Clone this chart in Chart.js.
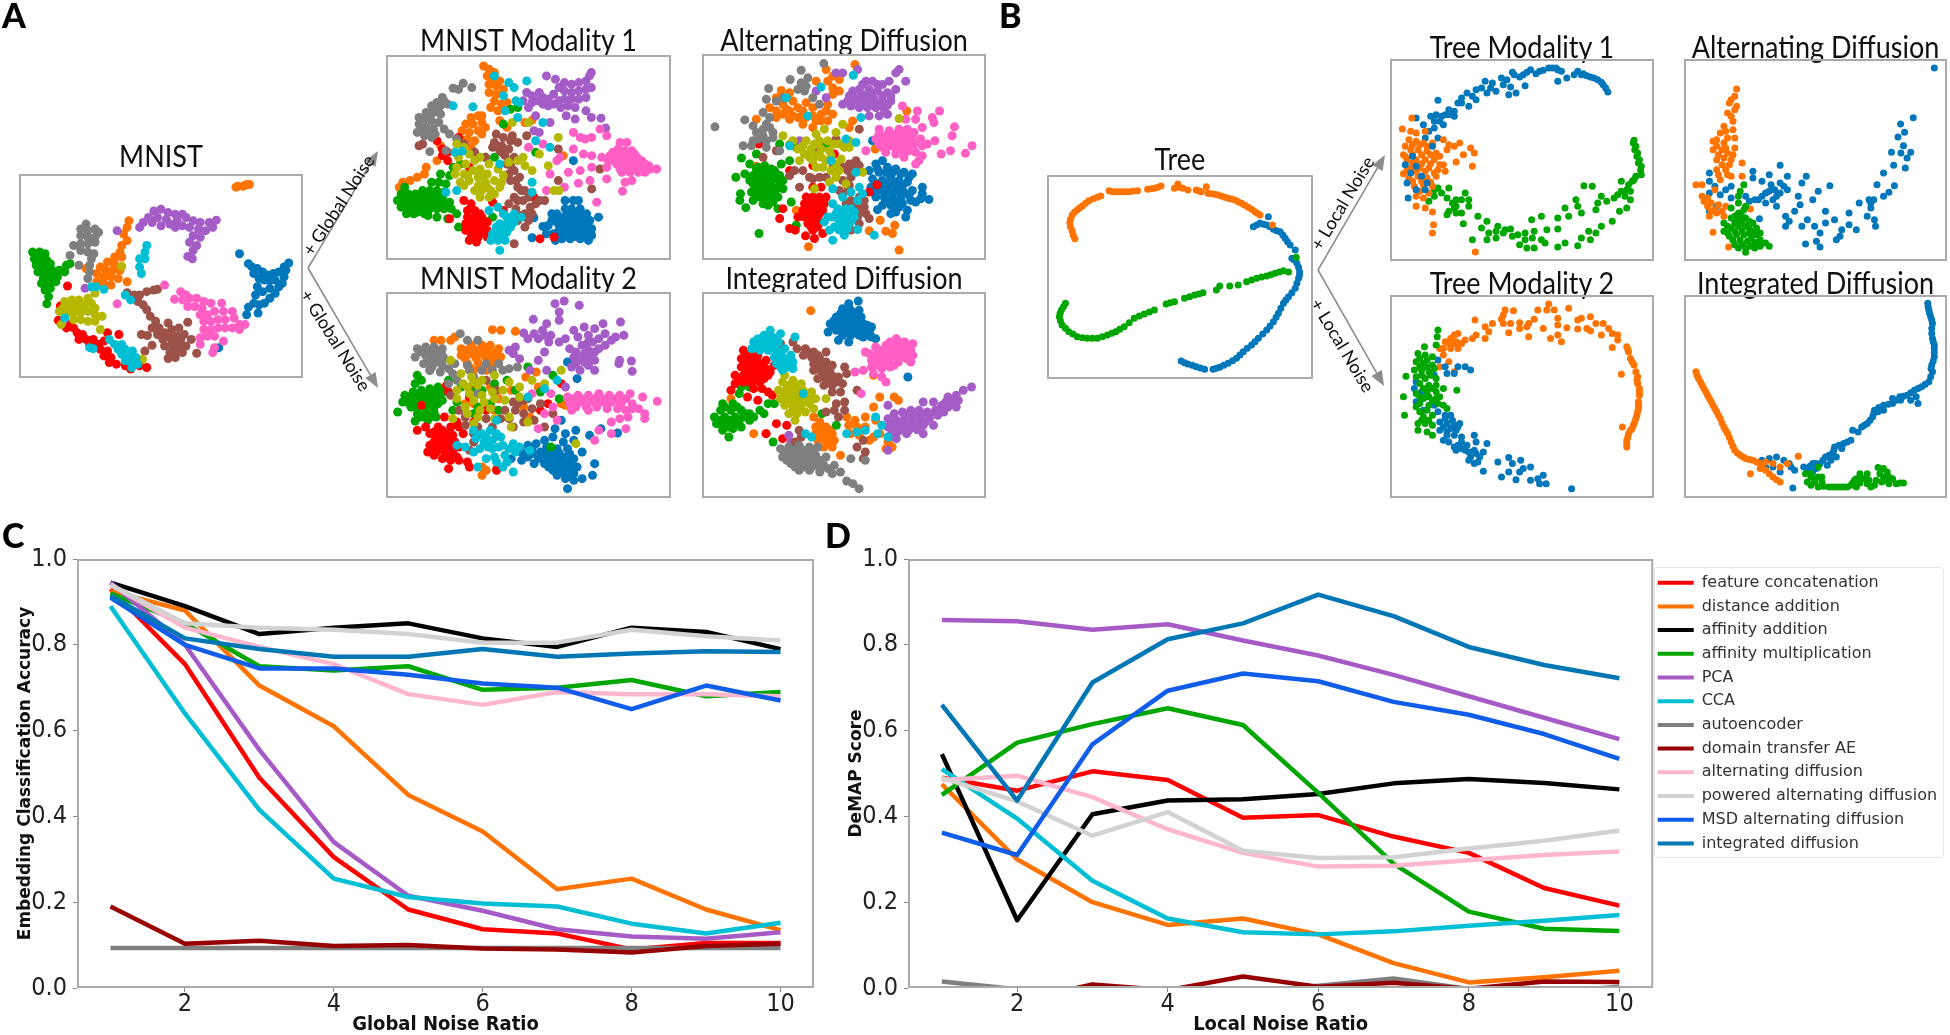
<!DOCTYPE html>
<html>
<head>
<meta charset="utf-8">
<title>Integrated diffusion figure</title>
<script src="https://cdn.jsdelivr.net/npm/chart.js@4/dist/chart.umd.min.js"></script>
<style>
  html, body { margin: 0; background: #fff; }
  #page { position: relative; width: 1950px; height: 1035px; overflow: hidden; filter: blur(0.4px); }
  #page canvas { position: absolute; }
  .ttl { position: absolute; font: 27px Lato, sans-serif; color: #111; text-align: center; white-space: nowrap; transform: translate(-50%, -50%) scaleY(1.12); }
  .let { position: absolute; font: 900 34px Lato, sans-serif; color: #000; }
  .arr { position: absolute; font: 18px Lato, sans-serif; color: #111; white-space: nowrap; }
  #legendBox { position: absolute; left: 1654px; top: 567px; width: 288px; height: 289px; border: 1px solid #e6e6e6; border-radius: 4px; }
  svg { position: absolute; left: 0; top: 0; }
</style>
</head>
<body>
<div id="page"><div id="legendBox"></div></div>
<script>
// ── Data: noise curves ────────────────────────────────────────────
const noiseRatios = [1, 2, 3, 4, 5, 6, 7, 8, 9, 10];
const xTicks = [2, 4, 6, 8, 10];
const yTicks = [0, 0.2, 0.4, 0.6, 0.8, 1.0];
const methods = ['feature concatenation', 'distance addition', 'affinity addition', 'affinity multiplication', 'PCA', 'CCA', 'autoencoder', 'domain transfer AE', 'alternating diffusion', 'powered alternating diffusion', 'MSD alternating diffusion', 'integrated diffusion'];
const methodColors = ['#ff0000', '#ff7300', '#000000', '#00a600', '#a65ac6', '#00bfd4', '#7f7f7f', '#960000', '#ffb6cf', '#d2d2d2', '#0f5de8', '#0077b5'];

const accFeature = [0.93, 0.755, 0.49, 0.305, 0.183, 0.137, 0.127, 0.09, 0.105, 0.105];
const accDistance = [0.925, 0.88, 0.705, 0.61, 0.45, 0.365, 0.23, 0.255, 0.183, 0.135];
const accAffAdd = [0.945, 0.89, 0.825, 0.84, 0.85, 0.815, 0.795, 0.84, 0.83, 0.79];
const accAffMul = [0.92, 0.85, 0.75, 0.74, 0.75, 0.695, 0.70, 0.718, 0.68, 0.69];
const accPca = [0.945, 0.80, 0.555, 0.34, 0.215, 0.18, 0.137, 0.12, 0.115, 0.13];
const accCca = [0.89, 0.64, 0.415, 0.255, 0.212, 0.197, 0.19, 0.15, 0.127, 0.152];
const accAe = [0.093, 0.093, 0.093, 0.093, 0.093, 0.093, 0.093, 0.093, 0.093, 0.093];
const accDtae = [0.19, 0.103, 0.11, 0.098, 0.10, 0.092, 0.09, 0.083, 0.098, 0.103];
const accAlt = [0.94, 0.84, 0.795, 0.755, 0.685, 0.66, 0.69, 0.685, 0.685, 0.68];
const accPowered = [0.94, 0.85, 0.84, 0.835, 0.825, 0.805, 0.805, 0.835, 0.82, 0.81];
const accMsd = [0.91, 0.80, 0.745, 0.745, 0.73, 0.71, 0.70, 0.65, 0.705, 0.67];
const accInteg = [0.915, 0.815, 0.79, 0.772, 0.772, 0.79, 0.772, 0.78, 0.785, 0.783];

const demFeature = [0.49, 0.46, 0.505, 0.485, 0.397, 0.403, 0.353, 0.315, 0.233, 0.192];
const demDistance = [0.475, 0.30, 0.20, 0.147, 0.162, 0.125, 0.058, 0.013, 0.025, 0.04];
const demAffAdd = [0.545, 0.158, 0.405, 0.437, 0.44, 0.452, 0.477, 0.487, 0.478, 0.463];
const demAffMul = [0.45, 0.572, 0.615, 0.652, 0.613, 0.455, 0.29, 0.178, 0.138, 0.133];
const demPca = [0.858, 0.855, 0.835, 0.848, 0.81, 0.775, 0.73, 0.68, 0.63, 0.58];
const demCca = [0.51, 0.395, 0.25, 0.162, 0.13, 0.125, 0.132, 0.145, 0.157, 0.17];
const demAe = [0.015, -0.003, -0.01, -0.01, -0.01, 0.005, 0.022, -0.002, -0.01, 0.003];
const demDtae = [-0.03, -0.03, 0.008, -0.005, 0.027, 0.003, 0.012, -0.002, 0.015, 0.014];
const demAlt = [0.485, 0.495, 0.445, 0.37, 0.315, 0.283, 0.285, 0.298, 0.31, 0.318];
const demPowered = [0.49, 0.435, 0.355, 0.41, 0.32, 0.303, 0.305, 0.325, 0.343, 0.367];
const demMsd = [0.362, 0.31, 0.568, 0.693, 0.733, 0.715, 0.667, 0.637, 0.592, 0.534];
const demInteg = [0.66, 0.437, 0.712, 0.813, 0.85, 0.917, 0.867, 0.795, 0.753, 0.722];

// ── Data: embeddings, flat x,y lists ──────────────────────────────
// class order: blue, orange, green, red, purple, brown, pink, gray, olive, cyan
const digitColors = ['#0077bb', '#ff7300', '#00a600', '#ff0000', '#a45cc6', '#9c5248', '#ff5fc4', '#7f7f7f', '#b5b800', '#00bfd4'];
const treeColors = ['#0077bb', '#ff7300', '#00a600'];

const baseBlue = [670,760,695,790,705,800,720,805,735,815,750,825,765,820,780,815,795,800,808,788,800,810,795,830,790,850,780,860,770,880,755,895,740,910,725,915,710,910,695,922,690,945,722,940,715,885,720,860,725,835,740,840,755,840,770,840,755,865,735,875,710,820,612,1045];
const baseOrange = [680,555,665,555,690,550,660,558,698,550,360,660,355,680,345,700,355,720,340,735,335,755,320,770,340,770,320,790,300,785,280,800,295,810,315,810,335,810,270,820,290,830,310,830,330,835,270,845,290,850,310,855,355,845,240,805];
const baseGreen = [90,755,110,755,125,760,95,775,115,775,130,780,100,795,120,795,140,790,105,815,125,815,145,810,165,810,185,795,195,790,180,815,160,830,140,830,120,835,115,850,135,850,155,845,125,870,140,865,135,890,130,912,110,785,130,800,150,820,130,840,110,805];
const baseRed = [188,858,168,918,162,962,195,975,185,985,205,985,215,1000,230,1005,220,1020,240,1020,260,1020,250,1035,275,1035,290,1025,280,1050,300,1055,290,1070,310,1075,305,1090,325,1095,332,1005,300,1000,350,1100,365,1110,390,1100,410,1105];
const basePurple = [450,625,430,630,470,635,415,650,440,650,465,655,490,640,510,640,400,665,425,665,390,680,450,675,475,670,495,660,520,650,540,660,560,665,585,665,605,658,595,680,575,690,555,685,530,680,510,675,490,680,540,705,560,710,530,725,550,735,540,750,525,768,538,775,327,690,237,865];
const baseBrown = [355,878,375,885,390,885,410,875,430,870,440,868,385,905,400,915,410,930,420,950,435,965,445,985,470,970,425,985,525,968,440,1005,460,1000,480,990,500,985,395,1005,412,1008,405,1055,425,1038,455,1020,475,1015,495,1010,515,1005,535,1020,460,1040,480,1035,500,1030,520,1040,475,1060,495,1055,510,1060,470,1078,490,1075,550,1062,485,1025,505,1020,485,1048,505,1045];
const basePink = [460,855,505,875,488,898,327,912,520,885,510,900,530,895,550,895,570,905,525,920,545,920,565,925,590,910,620,910,560,945,580,945,600,935,625,935,650,935,570,965,590,965,610,960,630,960,655,955,670,975,685,975,570,990,590,990,610,985,630,985,650,985,670,990,560,1015,580,1010,600,1010,625,1025,560,1035,600,1045,595,1060];
const baseGray = [240,670,225,685,245,690,265,685,275,695,225,705,245,710,265,710,205,735,225,730,245,730,265,725,225,750,245,755,262,760,195,765,220,795,255,775,250,795,250,815,245,835];
const baseOlive = [180,905,200,900,220,900,245,895,265,880,175,925,195,920,215,920,235,915,255,910,265,925,165,935,185,940,205,940,225,938,245,935,265,945,285,950,205,960,225,960,245,965,265,965,280,990,170,975,340,798,398,1080];
const baseCyan = [410,735,405,755,390,775,405,775,390,800,395,820,350,885,365,900,268,860,255,860,290,868,180,955,320,1035,340,1035,330,1050,350,1050,370,1055,340,1065,360,1075,380,1075,350,1085,370,1095,385,1095,305,1020,260,1048,250,1045,368,1105];

const mod1Blue = [1605,600,1582,600,1619,600,1600,625,1582,625,1624,625,1642,640,1675,650,1559,640,1577,650,1596,650,1614,650,1633,655,1651,660,1545,660,1563,670,1582,675,1600,675,1619,675,1638,680,1656,685,1563,695,1582,695,1600,695,1619,700,1638,700,1656,705,1573,715,1596,715,1624,715,1647,720,1605,480,1520,678,1535,675,1550,660,1565,650,1545,640,1495,652,1490,712,1530,700,1550,700,1565,690,1555,720,1590,640,1610,640,1628,640,1572,662,1592,662,1610,662,1628,665,1645,670,1572,685,1592,685,1610,688,1628,690,1648,690,1590,705,1610,708,1630,710];
const mod1Orange = [1355,195,1370,205,1385,215,1365,225,1385,235,1400,240,1370,250,1390,255,1410,265,1370,275,1390,280,1385,300,1405,310,1375,320,1395,330,1420,305,1320,350,1340,345,1305,370,1325,370,1350,365,1295,390,1315,395,1340,390,1290,415,1310,415,1330,420,1225,480,1195,500,1190,520,1130,545,1150,540,1120,560,1170,530,1235,435,1490,358,1470,365,1577,465,1350,345,1300,440,1320,440,1350,400,1360,380,1420,380,1400,360];
const mod1Green = [1235,520,1260,525,1210,545,1230,545,1250,550,1185,570,1205,570,1225,570,1245,575,1125,580,1145,580,1165,580,1115,600,1135,600,1155,600,1175,600,1195,600,1215,600,1235,600,1125,620,1145,620,1165,620,1185,625,1205,625,1225,625,1245,625,1265,625,1140,640,1160,640,1200,645,1225,650,1280,640,1255,655,1285,680,1360,470,1290,490,1270,500,1380,650,1385,470,1430,325,1450,320,1135,560,1180,585,1200,585,1220,585,1240,590,1180,610,1200,612,1220,612,1240,612,1260,605,1150,630,1170,635,1190,640,1150,610,1130,610,1410,370,1500,455];
const mod1Red = [1225,420,1285,410,1240,445,1255,455,1240,465,1255,480,1315,500,1300,600,1320,610,1345,640,1310,630,1330,630,1310,650,1330,650,1350,650,1305,670,1325,670,1345,670,1365,665,1305,690,1325,690,1345,690,1365,690,1320,710,1340,710,1385,700,1335,725,1315,720,1410,630,1380,605,1495,590,1512,715,1551,710,1260,655,1315,660,1335,660,1355,660,1315,680,1335,680,1355,680,1325,700,1345,700,1365,710];
const mod1Purple = [1475,275,1490,285,1505,300,1520,290,1535,295,1550,280,1565,260,1550,310,1480,320,1500,345,1530,225,1555,235,1580,245,1600,250,1620,245,1640,240,1650,225,1655,215,1580,270,1600,275,1620,270,1640,265,1655,260,1580,295,1600,295,1620,295,1640,290,1570,320,1590,315,1610,320,1640,330,1585,345,1610,355,1655,350,1540,365,1682,352,1695,382,1495,390,1510,395,1520,310,1535,315,1565,300,1510,275,1490,305,1465,300];
const mod1Brown = [1185,430,1175,435,1390,400,1410,410,1430,420,1450,425,1385,425,1405,435,1425,445,1415,465,1440,470,1420,490,1440,510,1425,520,1455,530,1430,540,1450,560,1470,570,1440,590,1465,600,1485,620,1425,610,1445,625,1470,640,1450,660,1470,680,1440,730,1330,455,1360,470,1300,430,1510,600,1500,610,1525,600,1490,640,1475,405,1563,445,1563,540,1656,565,1679,505,1435,405,1405,455,1430,495,1445,540,1460,570,1480,590,1450,600,1460,645,1480,660,1400,450,1380,440];
const mod1Pink = [1735,425,1754,425,1730,445,1749,450,1768,450,1707,465,1726,470,1744,470,1763,470,1782,470,1684,470,1703,480,1726,490,1744,495,1763,490,1782,490,1805,490,1819,505,1837,505,1740,515,1763,515,1786,515,1805,515,1749,545,1768,540,1742,572,1698,500,1698,535,1656,465,1656,410,1698,405,1679,385,1624,410,1605,395,1638,415,1568,470,1605,445,1633,460,1559,480,1591,515,1624,510,1656,500,1651,540,1670,605,1619,548,1715,455,1735,460,1755,460,1775,460,1715,480,1735,480,1755,480,1775,480,1795,480,1735,505,1755,505,1775,505,1795,505,1815,495,1520,430,1540,520,1580,560,1530,570,1480,440];
const mod1Gray = [1298,247,1322,260,1270,262,1285,265,1240,290,1225,305,1210,315,1235,315,1255,310,1195,335,1215,335,1235,340,1190,355,1210,360,1230,365,1175,370,1195,380,1215,385,1170,395,1190,405,1210,410,1245,385,1260,400,1205,453,1250,450,1280,415,1185,385,1205,345,1225,325,1245,300,1200,395,1220,400,1175,350];
const mod1Olive = [1285,470,1305,490,1330,480,1280,500,1300,520,1325,510,1345,505,1365,520,1290,545,1315,540,1340,530,1360,545,1385,540,1410,525,1330,570,1350,570,1375,570,1400,560,1345,590,1370,590,1470,495,1450,480,1490,510,1510,460,1535,495,1565,570,1280,430,1300,440,1480,365,1435,365,1563,410,1551,570,1315,460,1345,470,1370,490,1395,505,1310,525,1340,555,1365,560,1385,580,1350,520,1300,555,1275,520,1405,545,1425,485,1465,470];
const mod1Cyan = [1425,245,1440,260,1385,225,1475,240,1410,285,1455,305,1445,300,1325,318,1270,315,1520,365,1415,330,1295,452,1275,455,1400,490,1250,575,1280,570,1370,630,1395,620,1420,650,1440,640,1400,670,1420,670,1440,665,1380,700,1400,695,1420,695,1375,720,1395,720,1400,750,1415,720,1490,545,1490,575,1460,650,1380,710,1410,710,1390,680,1410,680,1430,680,1430,650,1410,640,1450,350,1500,420,1540,440];

const mod2Blue = [525,275,548,325,510,450,495,475,520,490,545,480,578,495,605,475,645,488,470,510,490,500,515,515,540,510,430,525,450,520,475,530,500,535,525,535,560,545,415,545,440,550,465,555,490,555,515,560,540,565,390,565,415,570,445,580,470,580,495,580,520,585,548,590,590,580,490,600,515,605,540,610,585,615,520,625,540,630,560,625,525,655,460,545,480,545,505,548,530,550,430,560,455,565,480,568,505,570,530,575,480,590,505,593,530,598,500,615,525,612,545,590,440,535];
const mod2Orange = [205,210,222,210,245,210,255,200,345,178,365,180,400,183,270,235,295,225,320,225,340,225,360,235,270,255,295,250,320,250,345,250,365,260,285,280,310,275,335,275,300,300,330,300,450,305,320,590,330,600,320,615,425,320,455,350,360,385,355,595,280,400,420,410,350,420,435,440,510,400,520,405,280,240,305,240,330,240,355,245,280,265,305,262,330,262,350,265,290,290,315,290,345,285,300,320,340,350,390,360,300,400];
const mod2Green = [165,315,175,330,160,340,195,300,135,375,155,365,175,360,195,355,215,350,130,395,155,390,175,385,195,380,215,375,118,425,150,410,175,405,195,400,215,400,165,430,185,425,205,425,190,450,210,440,160,452,430,290,490,315,295,360,320,360,350,340,260,395,300,430,380,330,485,530,400,360,145,380,165,375,185,370,205,365,225,365,145,400,165,395,185,390,205,390,225,390,165,415,185,410,205,412,175,440,195,440,240,330,270,350,340,400,310,410,360,420,250,420,460,365,505,385];
const mod2Red = [165,480,185,470,215,470,235,345,240,365,175,405,205,485,225,480,245,470,210,505,230,500,250,495,195,525,215,525,235,520,255,515,190,545,210,545,230,545,250,545,225,565,245,570,265,570,285,575,240,595,290,590,355,600,230,440,265,470,330,420,478,400,195,490,215,495,235,490,205,515,225,512,245,510,205,535,225,535,245,532,265,530,205,555,240,560,260,560,260,455,275,490,300,455,290,380,460,420,510,340];
const mod2Purple = [495,100,517,92,553,105,505,125,443,147,475,160,505,150,420,188,465,180,485,195,610,160,652,155,565,170,590,175,540,180,455,205,480,215,520,205,550,200,575,195,615,190,640,200,660,195,430,205,530,235,560,225,585,215,615,225,565,250,590,245,540,260,565,275,590,270,650,270,678,272,535,290,555,300,590,300,648,280,680,303,400,230,385,240,395,250,470,245,455,270,475,300,520,350,410,265,435,300,575,215,545,245,575,240,600,235,555,265,580,260,545,280,575,285,470,195,445,190,505,215,600,205,630,210];
const mod2Brown = [245,375,300,340,330,330,355,360,395,395,420,390,375,420,400,420,385,445,420,455,440,415,280,465,300,515,345,470,290,540,470,470,280,440,265,420,310,470,330,445,365,445,405,400,395,470,355,495,300,490,430,385,420,430,445,450,460,400,490,430];
const mod2Pink = [525,380,550,375,575,375,600,370,625,375,650,375,675,370,705,380,740,393,530,400,555,395,580,395,605,395,630,395,655,395,680,400,535,420,575,420,620,415,645,415,665,420,695,415,710,430,630,455,650,445,670,440,710,445,665,475,600,480,630,490,590,510,485,370,490,410,540,385,565,385,590,385,615,385,640,385,665,385,545,410,570,410,595,410,620,405,650,405,680,415,440,370,470,430,500,450,455,475];
const mod2Gray = [165,235,185,230,205,230,225,235,160,260,185,255,205,255,225,255,180,280,205,280,225,285,195,300,220,305,268,190,285,210,310,210,360,280,385,295,405,290,240,340,250,310,285,285,310,370,320,300,175,245,195,245,215,245,230,265,195,270,215,270,200,290,240,295,330,280,345,300,370,300,255,280,290,300,300,320,260,330];
const mod2Olive = [245,270,270,310,295,320,320,330,350,315,385,335,410,350,260,360,285,350,310,345,280,410,300,390,325,395,350,385,285,430,310,440,350,445,390,470,430,455,545,520,275,340,300,335,260,385,290,370,320,375,345,365,370,360,340,415,315,420,375,390,385,440,300,460,250,445,410,380,440,330,470,340,510,300];
const mod2Cyan = [300,480,320,490,340,480,305,505,325,515,345,510,365,500,315,535,345,535,370,525,395,520,260,525,280,530,350,560,375,555,400,545,370,590,395,605,330,565,310,590,355,450,310,495,330,500,355,490,335,530,360,530,385,535,355,575,380,575,300,545,410,530,435,540,430,380,470,355,500,330];

const altBlue = [1000,480,980,490,1015,500,960,510,990,515,1040,505,1065,515,1090,520,970,535,1000,540,1025,530,1050,540,1075,545,1120,560,965,560,990,565,1015,560,1040,565,1065,575,1090,570,1120,580,1140,597,1115,595,980,590,1005,590,1030,590,1055,595,1085,600,1100,605,1000,615,1025,615,1050,620,1075,630,985,628,1040,635,1070,650,1025,640,970,420,985,505,1010,515,1030,515,1055,520,1080,530,985,550,1010,550,1035,550,1060,555,980,575,1005,575,1030,578,1055,580,1080,585,1010,600,1035,605,1060,610];
const altOrange = [917,190,830,205,850,225,870,235,835,240,800,240,850,260,695,268,720,275,700,310,730,300,660,320,680,330,700,340,720,330,745,320,770,305,790,320,815,340,835,310,620,355,720,355,745,350,770,350,800,360,835,360,910,360,900,380,680,350,978,445,620,497,993,660,1037,675,1010,693,1030,700,1050,750,777,740,960,692,1073,330,670,520,740,630,680,290,710,325,730,345,760,330,790,345,815,360,850,340,830,330,870,270,850,280,760,370,790,380];
const altGreen = [575,472,620,460,600,490,558,530,585,520,625,500,645,495,610,525,630,525,655,520,675,510,695,490,610,550,630,550,655,545,680,535,700,540,605,575,630,575,655,570,680,565,700,565,572,580,570,600,610,600,640,595,660,595,685,590,588,622,655,615,685,625,628,700,725,605,740,675,740,440,690,430,830,430,720,480,620,505,640,510,665,505,620,535,645,535,665,530,690,525,620,560,645,560,665,555,690,555,620,590,650,585,675,580,640,610,670,605,600,540];
const altRed = [627,430,690,655,720,685,737,690,768,707,795,715,820,700,700,625,745,650,770,590,790,590,810,590,830,590,765,610,785,610,805,610,825,610,760,630,780,630,800,630,820,630,765,650,785,650,805,650,775,670,795,670,790,690,790,560,815,560,790,495,855,460,720,510,960,575,983,553,925,640,775,600,795,600,815,600,775,620,795,620,815,620,770,640,790,640,810,640,780,660,800,660,785,680,805,680];
const altPurple = [1050,205,1070,240,1040,215,925,205,880,215,860,215,950,240,970,240,1000,250,1020,240,930,265,960,265,985,270,1015,275,1040,265,900,285,925,290,950,290,975,295,1000,300,1025,300,880,310,905,315,930,320,955,320,980,320,1005,325,960,345,990,345,1015,340,800,270,750,420,830,290,940,250,985,250,910,270,940,280,965,280,1000,285,1025,285,915,300,940,305,965,305,990,310,1015,312,895,300];
const altBrown = [680,450,800,440,830,530,780,530,735,510,720,525,790,535,880,500,900,490,920,480,930,495,880,540,900,555,880,585,890,610,920,610,945,620,960,655,930,670,905,690,950,640,640,470,750,560,860,415,930,385,760,510,810,530,850,500,895,510,915,500,905,530,895,570,905,600,930,630,945,600,930,590,925,650,870,570];
const altPink = [1172,330,1105,330,1060,315,1150,350,1155,365,1100,355,1070,355,1120,380,1217,378,1210,405,1270,435,1250,458,1205,450,1177,460,1158,420,990,385,1020,390,1050,385,1075,385,1095,395,980,415,1005,415,1030,410,1055,410,1080,410,1115,415,1000,440,1025,435,1050,435,1075,430,1120,435,1135,430,1040,460,1065,470,1100,455,1120,465,1100,490,950,450,990,400,1015,400,1040,400,1065,400,1090,410,990,430,1015,425,1040,425,1065,420,1095,430,1010,455,1040,445,1060,450,1080,450,1110,480];
const altGray = [823,187,755,207,722,235,657,262,650,295,495,378,585,357,580,435,775,230,755,245,745,265,765,270,790,290,700,290,680,300,640,335,610,375,620,395,640,385,625,415,650,420,670,395,605,435,650,440,690,450,660,350,810,310,770,255,650,370,630,400,610,420,640,405,670,410,660,380];
const altOlive = [700,405,720,430,745,445,770,420,800,400,825,385,860,395,880,370,795,430,815,445,840,450,870,430,900,420,750,480,780,470,800,465,830,480,860,490,800,500,845,510,870,510,900,440,795,565,890,550,1050,353,940,515,730,420,760,435,785,445,810,420,835,420,855,430,885,440,765,460,790,480,815,470,845,465,875,475,820,500,860,530,840,545];
const altCyan = [710,290,815,258,912,222,775,345,720,435,890,415,920,425,845,480,850,565,920,515,935,350,880,590,850,610,865,625,890,625,915,635,825,665,850,650,875,650,900,650,855,680,880,675,905,665,850,720,885,705,925,688,975,705,940,580,860,640,880,635,905,625,835,650,870,665,895,665,915,650,840,690,870,690,895,685,925,600,905,575,930,560];

const intBlue = [1228,92,1205,100,1190,115,1210,120,1230,120,1175,140,1195,140,1215,140,1235,140,1160,160,1180,160,1200,160,1220,160,1240,160,1260,170,1155,185,1175,180,1195,180,1215,180,1235,180,1255,185,1270,205,1180,210,1205,215,1240,200,1260,200,1348,320,1185,130,1205,130,1225,130,1170,150,1190,150,1210,150,1230,150,1250,165,1170,170,1190,170,1210,170,1230,170,1250,175,1190,195,1210,195,1230,195,1250,195];
const intOrange = [1113,121,1120,440,1135,455,1150,470,1125,470,1125,490,1145,490,1165,490,1130,510,1150,510,1170,510,1145,530,1165,530,1185,555,1200,440,1220,450,1245,440,1265,410,1280,380,1315,380,1325,390,1205,465,1225,470,1245,470,1270,450,1210,490,1230,495,1265,500,1255,510,1280,490,1300,515,1310,530,1295,535,1265,315,920,385,975,490,1005,490,1140,480,1160,480,1135,500,1160,500,1155,520];
const intGreen = [1022,515,945,350,965,350,940,370,900,400,925,400,895,420,920,420,945,420,965,430,990,420,1010,400,1025,400,880,440,905,440,930,440,950,440,975,440,1000,430,885,460,905,460,930,460,900,480,925,475,945,470,915,500,1140,430,1175,465,905,410,935,410,955,430,895,450,915,450,940,450,965,450,900,470,915,470];
const intRed = [950,240,965,250,985,255,945,265,965,270,985,275,1005,270,945,290,965,295,985,295,1005,295,1025,285,930,315,950,315,970,315,990,315,1010,315,930,340,950,335,970,340,990,335,975,355,995,355,1010,365,1020,375,920,360,960,380,985,390,1030,460,1055,465,1005,490,1045,505,955,255,975,262,955,280,975,285,995,285,955,305,975,305,995,305,1015,305,940,328,960,328,980,328,1000,325];
const intPurple = [1502,350,1482,360,1465,375,1445,380,1460,395,1430,405,1445,410,1465,410,1410,395,1385,395,1415,420,1435,425,1300,405,1315,430,1335,425,1355,420,1375,420,1395,425,1300,445,1320,450,1340,445,1360,445,1380,445,1400,445,1300,470,1320,470,1345,470,1365,465,1385,465,1410,465,1320,490,1345,490,1385,490,1300,500,1320,505,1065,515,1060,495,1300,540,1340,435,1360,432,1380,432,1400,432,1420,435,1310,460,1330,460,1350,458,1370,455,1390,455,1330,480,1350,480,1370,478,1310,485,1450,395,1470,390,1440,395];
const intBrown = [1040,220,1070,215,1080,235,1100,235,1120,245,1150,245,1095,255,1115,260,1135,265,1120,280,1140,285,1165,285,1120,300,1140,305,1160,305,1195,290,1200,310,1130,325,1150,325,1170,320,1145,345,1165,345,1190,340,1165,365,1185,365,1175,400,1195,395,1170,420,1195,420,1150,425,1180,440,1225,360,1085,480,1075,515,1240,510,1225,530,1245,545,1240,565,1090,500,1105,245,1130,255,1125,270,1150,275,1130,295,1150,295,1140,315,1160,315,1180,320,1155,335,1175,335];
const intPink = [1320,205,1340,215,1360,220,1270,230,1295,225,1315,225,1335,235,1355,240,1255,250,1275,250,1295,250,1315,250,1335,255,1360,255,1245,245,1260,270,1280,270,1300,270,1325,275,1355,275,1260,290,1285,295,1305,290,1240,300,1265,310,1285,320,1295,335,1220,305,1235,370,1305,215,1325,215,1345,225,1285,240,1305,240,1325,245,1345,245,1265,260,1285,260,1305,260,1325,265,1345,265,1270,285,1295,280,1315,285];
const intGray = [1040,535,1060,530,1085,525,1110,530,1130,530,1045,560,1065,555,1085,550,1105,550,1125,555,1150,560,1065,580,1085,575,1105,575,1125,580,1145,585,1170,585,1085,600,1110,600,1135,605,1165,610,1185,605,1200,632,1215,640,1230,655,1210,565,1245,570,1050,545,1075,540,1095,540,1120,540,1055,570,1075,565,1095,565,1115,565,1135,570,1075,590,1095,590,1115,590,1135,595,1155,595];
const intOlive = [1050,315,1045,335,1070,330,1090,340,1035,360,1055,355,1075,355,1095,360,1115,365,1150,385,1040,385,1060,380,1080,380,1100,385,1125,385,1050,405,1070,405,1090,405,1110,400,1060,430,1080,430,1100,425,1075,450,1120,415,1060,345,1080,345,1050,370,1070,368,1090,370,1110,375,1050,395,1070,392,1090,392,1110,392,1070,418,1090,418];
const intCyan = [1015,180,1000,195,1020,200,1040,190,1075,200,975,215,995,215,1015,220,1035,215,970,235,990,240,1010,240,1030,240,1050,235,1025,260,1045,260,1065,255,1030,280,1050,280,1070,275,1045,300,1070,295,1095,370,1100,490,1115,500,1200,490,1225,485,1245,480,1270,440,1285,465,1275,490,1300,500,985,205,1005,208,1025,205,985,228,1005,228,1025,228,1040,248,1035,270,1060,268,1040,290,1060,290];

const treeOrange = [108,236,103,225,100,212,95,200,93,188,95,178,100,165,107,157,115,150,122,144,130,138,140,130,150,122,163,116,175,112,185,108,210,92,220,95,230,95,240,95,250,95,260,95,270,95,282,93,295,92,325,88,335,86,345,85,355,82,365,78,405,85,415,72,420,82,430,85,445,90,470,90,478,93,485,95,500,80,505,100,515,101,525,103,535,105,545,108,555,112,565,115,575,117,585,120,595,125,605,130,615,136,625,142,635,148,645,155,652,160,660,165,697,195];
const treeBlue = [685,170,640,200,650,195,660,190,670,193,680,195,690,200,700,208,710,212,720,215,728,225,735,235,742,245,750,255,765,270,755,295,762,300,770,310,775,322,778,335,778,345,775,355,770,370,765,385,755,398,745,410,737,420,730,430,722,445,715,460,708,472,700,485,690,498,680,510,668,522,655,535,645,545,635,555,622,565,610,575,600,585,590,595,578,602,565,610,552,616,540,622,530,625,520,628,495,628,482,624,470,620,458,616,445,612,435,608,425,603];
const treeGreen = [80,430,74,440,68,450,64,460,62,470,65,482,70,495,80,505,90,515,102,522,115,530,130,533,145,535,160,535,175,535,190,530,205,525,218,520,230,515,242,508,255,500,270,488,285,475,300,468,315,462,330,456,345,450,380,432,392,428,405,425,435,415,450,410,465,405,478,402,490,398,530,390,540,378,570,378,595,375,620,365,635,360,650,355,665,351,680,348,692,344,705,340,718,336,730,332,745,336,768,292];

const tmod1Blue = [628,277,615,255,600,240,580,232,560,222,545,215,535,225,515,235,490,245,490,210,475,205,450,212,430,222,415,210,405,218,385,232,365,218,350,240,335,235,360,262,375,280,355,285,400,258,320,275,305,265,290,245,295,280,265,270,265,300,240,280,225,295,245,320,215,310,205,335,190,345,160,302,180,345,165,365,140,350,155,345,100,355,120,375,150,385,175,375,205,350,135,395,125,415,160,415,190,330,170,350,150,365,225,310,255,290,280,265,310,250,340,255,370,225,395,225,440,215,465,205,500,215,555,225,570,228,590,235,610,248,622,265,485,205];
const tmod1Orange = [88,355,62,388,85,395,100,400,125,395,80,420,100,425,120,430,145,430,175,420,190,435,205,440,220,430,250,445,260,460,230,465,185,450,65,465,85,450,105,450,130,455,155,460,75,480,100,480,125,480,150,480,175,495,210,487,255,500,65,522,85,505,110,505,135,505,160,510,180,515,80,535,105,530,130,535,155,530,95,560,120,555,145,560,100,590,120,595,100,620,125,625,145,637,148,675,145,700,263,757,70,440,90,435,110,435,130,440,70,470,90,465,115,465,140,465,165,470,90,490,115,492,140,492,165,495,75,510,100,515,125,515,150,520,90,545,115,545,140,548,110,575,135,580];
const tmod1Green = [700,422,705,440,710,460,715,480,720,500,720,525,705,530,695,545,685,555,665,545,655,585,690,575,675,590,690,600,645,595,680,625,660,635,640,665,625,605,610,590,600,610,585,560,562,558,595,630,540,600,545,620,510,625,520,650,490,655,555,640,610,680,595,700,575,695,555,715,580,720,545,738,510,730,490,742,445,650,418,660,460,690,490,688,445,720,425,695,400,700,380,705,385,735,405,745,425,745,455,730,360,688,325,680,340,700,320,715,295,720,280,685,255,720,295,665,270,650,230,672,210,640,185,645,205,625,185,595,210,600,235,580,245,600,245,620,160,565,150,590,135,605,190,565,698,430,702,450,708,470,712,490,718,512,700,540,680,570,665,575,400,720,420,715,300,700,320,695,345,690,365,710,210,620,190,635,225,640,200,610,225,600,170,580,150,570];
const tmod1Over = [70,495,90,470,100,500,85,520,115,530,130,550,75,550,100,570,125,570,78,595,145,440];

const tmod2Blue = [250,330,235,320,215,320,205,340,180,320,160,300,150,345,185,340,100,365,95,385,115,395,100,425,130,410,120,450,150,435,160,455,180,465,195,465,165,485,185,490,205,495,220,490,165,510,185,515,210,510,175,540,190,545,225,530,215,555,240,555,260,525,265,545,210,570,235,570,260,570,295,550,285,575,250,590,275,590,260,610,285,633,325,605,355,592,365,610,388,600,395,625,415,620,385,635,355,635,335,650,375,658,415,660,435,655,450,645,440,670,458,670,528,685,180,475,200,480,175,500,195,505,215,500,185,525,205,525,225,545,205,560,225,565,245,575,265,580,245,600,270,605];
const tmod2Orange = [465,132,520,145,435,150,460,150,480,150,345,150,368,152,340,165,335,178,490,175,425,178,555,175,580,170,545,180,262,180,310,190,290,200,340,190,360,190,385,188,410,190,385,205,405,200,450,205,490,195,515,203,545,207,570,205,580,212,595,190,615,190,630,205,610,225,640,220,655,225,655,240,640,262,470,235,490,225,500,245,410,230,355,218,300,215,265,225,255,235,290,235,215,220,235,240,210,245,195,235,180,245,195,265,215,265,165,265,175,285,190,305,165,320,115,345,205,335,680,260,685,275,690,295,700,315,705,335,710,350,665,342,710,370,715,385,715,405,712,425,712,445,708,465,702,485,695,505,668,500,685,520,680,540,680,560,683,268,695,305,708,360,715,395,713,435,710,455,705,475,698,495,690,510,683,530,680,550,205,250,225,250,190,250,175,265,205,225];
const tmod2Green = [160,210,158,230,155,255,123,260,105,280,125,285,145,290,100,305,120,310,145,315,95,330,115,330,135,335,72,348,100,350,125,355,155,355,110,370,135,375,155,375,175,385,212,390,65,410,100,400,130,395,155,395,165,410,120,415,145,420,100,440,175,435,185,445,68,465,120,470,145,465,105,490,125,490,105,510,130,515,145,525,145,495,110,295,130,300,110,320,130,320,150,325,115,345,140,345,120,385,145,385,110,410,135,410,155,415,110,430,135,435,160,430,110,455,130,450,115,480,135,480];

const talBlue = [1525,205,1467,354,1432,373,1443,398,1425,412,1440,438,1433,460,1407,458,1460,458,1450,475,1413,497,1445,505,1385,520,1367,555,1415,558,1400,578,1385,590,1345,600,1318,610,1358,600,1350,625,1340,650,1360,660,1363,680,1290,640,1310,690,1290,675,1270,690,1265,710,1255,720,1250,660,1225,635,1225,670,1195,680,1210,700,1200,725,1170,733,1210,742,1175,660,1160,680,1115,650,1125,665,1115,680,1140,635,1155,615,1150,590,1160,550,1172,530,1190,600,1205,575,1237,558,1100,497,1120,530,1100,550,1070,525,1050,545,1025,515,1025,535,1120,570,1090,590,1070,575,1050,590,1030,600,1005,590,1090,620,1060,610,1043,657,905,520,905,545,950,570,965,560,905,580,905,635,925,620,965,595,1060,580,1080,600,1040,600,1015,605,1100,580,1110,560,1085,570,1075,555,920,560,935,585,1350,610];
const talOrange = [980,268,975,290,965,300,980,320,955,340,970,365,945,380,970,390,935,400,975,415,915,425,945,430,915,450,940,450,975,445,925,480,945,475,965,480,995,490,925,510,950,510,935,540,965,530,995,530,868,555,885,555,920,570,890,605,910,610,930,615,950,620,905,650,925,640,945,650,915,698,1018,628,958,742,960,310,975,330,965,350,950,395,925,420,955,415,925,440,950,445,930,465,955,460,970,465,940,495,960,495,930,525,955,525,900,620,920,630,940,635,910,635,885,590,900,595];
const talGreen = [1000,555,990,575,985,590,965,625,985,640,1000,630,945,670,965,655,985,660,1005,655,1025,670,945,695,965,685,985,680,1005,680,1025,695,1045,700,960,710,980,705,1000,705,1020,715,1045,720,1060,730,975,735,995,735,1020,740,1045,740,1070,740,1005,758,975,650,995,650,1015,665,955,680,975,670,995,670,1015,685,1035,685,955,700,975,695,995,695,1015,700,1035,705,970,722,990,722,1010,725,1030,728,1050,730,985,745,1005,745,1030,745,1005,620,985,610];

const tintBlue = [1507,130,1510,150,1515,170,1520,190,1518,205,1518,220,1522,245,1525,265,1525,290,1518,315,1520,335,1510,365,1490,380,1470,390,1475,410,1480,430,1450,405,1430,410,1410,430,1385,435,1360,450,1355,470,1340,490,1325,500,1300,510,1315,515,1295,540,1275,550,1250,560,1245,580,1225,590,1210,610,1190,610,1175,625,1190,635,1165,620,1135,683,1125,610,1110,600,1090,590,1070,595,1050,600,1080,620,1100,635,1130,620,1140,630,1060,620,1240,600,1200,625,1508,140,1512,160,1518,180,1520,235,1525,255,1525,278,1522,303,1516,325,1515,350,1500,372,1480,385,1460,398,1440,408,1420,420,1398,432,1372,442,1358,460,1348,480,1332,495,1285,545,1262,555,1248,570,1235,585,1218,600,1198,610,1182,618,1230,615,1255,590,1270,565,1370,455,1385,450,1410,415,1432,420,1460,420];
const tintOrange = [868,335,875,355,885,375,895,395,905,415,915,435,925,455,935,475,945,500,955,520,965,545,975,570,990,585,1005,595,1025,600,1045,610,1060,630,1080,650,1100,665,1018,640,1150,588,1045,625,1120,610,871,345,880,365,890,385,900,405,910,425,920,445,930,465,940,488,950,510,960,532,970,558,982,578,998,590,1015,598,1035,605,1050,615,1070,640,1090,658,1060,605,1080,610,1100,620];
const tintGreen = [1170,640,1185,650,1205,650,1175,665,1195,665,1215,665,1205,680,1235,680,1255,680,1275,680,1295,675,1305,660,1320,640,1330,655,1340,670,1360,675,1370,622,1385,625,1385,650,1400,650,1380,665,1400,670,1420,670,1440,668,1310,680,1340,640,1310,655,1205,620,1185,640,1195,655,1215,650,1185,675,1220,678,1245,680,1265,680,1285,680,1320,668,1345,660,1365,660,1375,640,1395,635,1410,655,1430,668,1390,660,1350,680,1300,668,1320,655];

// ── Panels: title, frame on the page, and data range of that frame ─
const panels = [
  { title: 'MNIST', box: [19, 174, 284, 204], ty: 155, xr: [52, 848], yr: [518, 1137], r: 4.5, colors: digitColors,
    sets: [baseBlue, baseOrange, baseGreen, baseRed, basePurple, baseBrown, basePink, baseGray, baseOlive, baseCyan] },
  { title: 'MNIST Modality 1', box: [386, 55, 285, 205], ty: 39, xr: [1083, 1877], yr: [162, 779], r: 4.5, colors: digitColors,
    sets: [mod1Blue, mod1Orange, mod1Green, mod1Red, mod1Purple, mod1Brown, mod1Pink, mod1Gray, mod1Olive, mod1Cyan] },
  { title: 'MNIST Modality 2', box: [386, 292, 285, 206], ty: 277, xr: [90, 773], yr: [65, 683], r: 4.5, colors: digitColors,
    sets: [mod2Blue, mod2Orange, mod2Green, mod2Red, mod2Purple, mod2Brown, mod2Pink, mod2Gray, mod2Olive, mod2Cyan] },
  { title: 'Alternating Diffusion', box: [702, 54, 284, 206], ty: 39, xr: [456, 1312], yr: [158, 780], r: 4.5, colors: digitColors,
    sets: [altBlue, altOrange, altGreen, altRed, altPurple, altBrown, altPink, altGray, altOlive, altCyan] },
  { title: 'Integrated Diffusion', box: [702, 292, 284, 206], ty: 277, xr: [850, 1537], yr: [65, 683], r: 4.5, colors: digitColors,
    sets: [intBlue, intOrange, intGreen, intRed, intPurple, intBrown, intPink, intGray, intOlive, intCyan] },
  { title: 'Tree', box: [1047, 175, 266, 204], ty: 158, xr: [25, 818], yr: [45, 657], r: 3.5, colors: treeColors,
    sets: [treeBlue, treeOrange, treeGreen] },
  { title: 'Tree Modality 1', box: [1390, 59, 264, 202], ty: 46, xr: [28, 755], yr: [178, 784], r: 3.5, colors: ['#0077bb', '#00a600', '#ff7300', '#0077bb'],
    sets: [tmod1Blue, tmod1Green, tmod1Orange, tmod1Over] },
  { title: 'Tree Modality 2', box: [1390, 295, 264, 203], ty: 282, xr: [28, 755], yr: [105, 713], r: 3.5, colors: ['#ff7300', '#0077bb', '#00a600'],
    sets: [tmod2Orange, tmod2Blue, tmod2Green] },
  { title: 'Alternating Diffusion', box: [1684, 59, 263, 202], ty: 46, xr: [835, 1560], yr: [178, 784], r: 3.5, colors: treeColors,
    sets: [talBlue, talOrange, talGreen] },
  { title: 'Integrated Diffusion', box: [1684, 295, 263, 203], ty: 282, xr: [835, 1560], yr: [105, 713], r: 3.5, colors: treeColors,
    sets: [tintBlue, tintOrange, tintGreen] },
];

// ── Helpers ───────────────────────────────────────────────────────
const page = document.getElementById('page');

function addCanvas(left, top, w, h) {
  const c = document.createElement('canvas');
  c.width = w; c.height = h;
  c.style.left = left + 'px'; c.style.top = top + 'px';
  c.style.width = w + 'px'; c.style.height = h + 'px';
  page.appendChild(c);
  return c;
}

function addText(cls, text, left, top) {
  const d = document.createElement('div');
  d.className = cls; d.textContent = text;
  d.style.left = left + 'px'; d.style.top = top + 'px';
  page.appendChild(d);
  return d;
}

function flatToPoints(flat) {
  const pts = [];
  for (let i = 0; i < flat.length; i += 2) pts.push({ x: flat[i], y: flat[i + 1] });
  return pts;
}

// spines on all four sides
const framePlugin = {
  id: 'frame',
  afterDraw(chart) {
    const { ctx, chartArea: a } = chart;
    ctx.save();
    ctx.strokeStyle = '#aaaaaa';
    ctx.lineWidth = 2;
    ctx.strokeRect(a.left + 1, a.top + 1, a.width - 2, a.height - 2);
    ctx.restore();
  },
};

// ── Scatter panels ────────────────────────────────────────────────
panels.forEach(p => {
  const [x, y, w, h] = p.box;
  addText('ttl', p.title, x + w / 2, p.ty);
  new Chart(addCanvas(x, y, w, h), {
    type: 'scatter',
    data: {
      datasets: p.sets.map((s, i) => ({
        data: flatToPoints(s),
        backgroundColor: p.colors[i],
        borderWidth: 0,
        pointRadius: p.r,
        order: p.sets.length - i,
      })),
    },
    options: {
      responsive: false, animation: false,
      layout: { autoPadding: false },
      plugins: { legend: { display: false }, tooltip: { enabled: false } },
      scales: {
        x: { type: 'linear', display: false, min: p.xr[0], max: p.xr[1] },
        y: { type: 'linear', display: false, reverse: true, min: p.yr[0], max: p.yr[1] },
      },
    },
    plugins: [framePlugin],
  });
});

// ── Line charts ───────────────────────────────────────────────────
function lineChart(left, w, axisW, padRight, titleTop, yTitle, xTitle, series, withLegend) {
  const tickFont = { family: '"DejaVu Sans Condensed", "DejaVu Sans"', size: 25, lineHeight: 1 };
  const plugins = [framePlugin];
  if (withLegend) {
    // legend clips to its own box, so move all of its edges
    plugins.push({ id: 'legendSpot', beforeDraw(chart) {
      const lg = chart.legend;
      lg.top = 37; lg.left = 1650 - left; lg.right = w;
    } });
  }
  return new Chart(addCanvas(left, 530, w, 505), {
    type: 'line',
    data: {
      datasets: series.map((vals, i) => ({
        label: methods[i],
        data: noiseRatios.map((x, j) => ({ x, y: vals[j] })),
        borderColor: methodColors[i],
        backgroundColor: methodColors[i],
        borderWidth: 4.5,
        pointRadius: 0,
        tension: 0,
        borderJoinStyle: 'round',
        order: series.length - i,
      })),
    },
    options: {
      responsive: false, animation: false,
      layout: { autoPadding: false, padding: { top: 29, right: padRight } },
      plugins: {
        tooltip: { enabled: false },
        legend: withLegend ? {
          position: 'right', align: 'start',
          labels: {
            boxWidth: 36, boxHeight: 4, padding: 7.7, color: '#333',
            font: { family: '"DejaVu Sans"', size: 16 },
            generateLabels: () => methods.map((text, i) => ({ text, fillStyle: methodColors[i], strokeStyle: methodColors[i], lineWidth: 0, fontColor: '#333', datasetIndex: i })),
          },
        } : { display: false },
      },
      scales: {
        x: {
          type: 'linear', min: 0.55, max: 10.45,
          afterBuildTicks: s => { s.ticks = xTicks.map(value => ({ value })); },
          afterFit: s => { s.height = 47; },
          grid: { drawOnChartArea: false, color: '#888', tickLength: 4 },
          border: { display: false },
          ticks: { font: tickFont, color: '#222', maxRotation: 0, padding: 0, callback: v => String(v) },
          title: { display: true, text: xTitle, color: '#111', padding: 0, font: { family: '"DejaVu Sans Condensed", "DejaVu Sans"', size: 20, weight: 'bold', lineHeight: 1 } },
        },
        y: {
          type: 'linear', min: 0, max: 1,
          afterBuildTicks: s => { s.ticks = yTicks.map(value => ({ value })); },
          afterFit: s => { s.width = axisW; },
          grid: { drawOnChartArea: false, color: '#888', tickLength: 4 },
          border: { display: false },
          ticks: { font: tickFont, color: '#222', padding: 6, callback: v => v.toFixed(1) },
          title: { display: true, text: yTitle, color: '#111', padding: { top: titleTop, bottom: 0 }, font: { family: '"DejaVu Sans"', size: 17, weight: 'bold' } },
        },
      },
    },
    plugins,
  });
}

lineChart(0, 830, 77, 16, 15, 'Embedding Classification Accuracy', 'Global Noise Ratio',
  [accFeature, accDistance, accAffAdd, accAffMul, accPca, accCca, accAe, accDtae, accAlt, accPowered, accMsd, accInteg], false);
lineChart(820, 1130, 88, 19, 26, 'DeMAP Score', 'Local Noise Ratio',
  [demFeature, demDistance, demAffAdd, demAffMul, demPca, demCca, demAe, demDtae, demAlt, demPowered, demMsd, demInteg], true);

// ── Panel letters ─────────────────────────────────────────────────
addText('let', 'A', 2, -6);
addText('let', 'B', 999, -6);
addText('let', 'C', 2, 514);
addText('let', 'D', 825, 514);

// ── Noise arrows ──────────────────────────────────────────────────
const arrowPaths = [[308, 268, 378, 151], [308, 268, 378, 388], [1318, 270, 1385, 155], [1318, 270, 1384, 386]];
const arrowLabels = [
  ['+ Global Noise', 338, 205, -57], ['+ Global Noise', 336, 340, 58],
  ['+ Local Noise', 1342, 203, -59], ['+ Local Noise', 1343, 345, 59],
];
const ns = 'http://www.w3.org/2000/svg';
const svg = document.createElementNS(ns, 'svg');
svg.setAttribute('width', 1950); svg.setAttribute('height', 1035);
arrowPaths.forEach(([x0, y0, x1, y1]) => {
  const len = Math.hypot(x1 - x0, y1 - y0), ux = (x1 - x0) / len, uy = (y1 - y0) / len;
  const bx = x1 - ux * 15, by = y1 - uy * 15;
  const line = document.createElementNS(ns, 'line');
  line.setAttribute('x1', x0); line.setAttribute('y1', y0); line.setAttribute('x2', bx); line.setAttribute('y2', by);
  line.setAttribute('stroke', '#8c8c8c'); line.setAttribute('stroke-width', 1.6);
  svg.appendChild(line);
  const head = document.createElementNS(ns, 'polygon');
  head.setAttribute('points', `${x1},${y1} ${bx - uy * 6},${by + ux * 6} ${bx + uy * 6},${by - ux * 6}`);
  head.setAttribute('fill', '#8c8c8c');
  svg.appendChild(head);
});
page.appendChild(svg);
arrowLabels.forEach(([text, x, y, deg]) => {
  const d = addText('arr', text, x, y);
  d.style.transform = `translate(-50%, -50%) rotate(${deg}deg)`;
});
</script>
</body>
</html>
